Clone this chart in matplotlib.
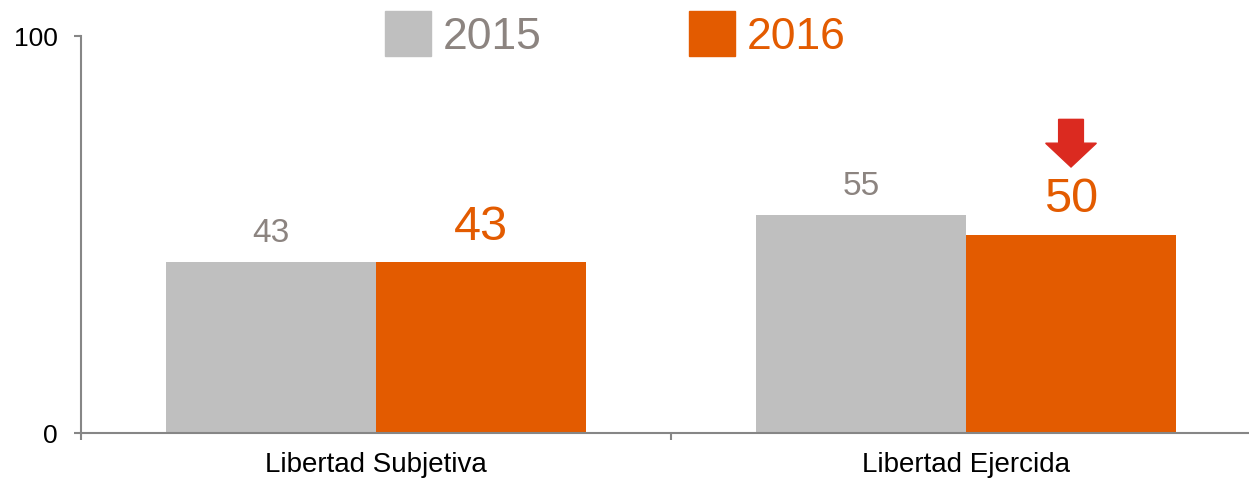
import matplotlib
matplotlib.use("Agg")
import matplotlib.pyplot as plt
import numpy as np
from matplotlib.patches import Patch, Polygon

plt.rcParams['font.family'] = ['Liberation Sans', 'DejaVu Sans']

### Data
categories = ['Libertad Subjetiva', 'Libertad Ejercida']
years = ['2015', '2016']
vals_2015 = [43, 55]
vals_2016 = [43, 50]
drop_flag = [False, True]   # red arrow above the 2016 value

### Style
c15 = '#bfbfbf'
c16 = '#e35b00'
c15_txt = '#8c8480'
axis_col = '#868686'
arrow_col = '#db2a20'

fig = plt.figure(figsize=(12.49, 4.81), dpi=100)
ax = fig.add_axes([81/1249, 47/481, 1180/1249, 397/481])

x = np.arange(len(categories))
w = 0.356
b15 = ax.bar(x - w/2, vals_2015, w, color=c15, zorder=2)
b16 = ax.bar(x + w/2, vals_2016, w, color=c16, zorder=2)

for xi, v in zip(x - w/2, vals_2015):
    ax.annotate(f'{v}', (xi, v), xytext=(0, 15), textcoords='offset points',
                ha='center', va='baseline', fontsize=24, color=c15_txt)
for xi, v, flag in zip(x + w/2, vals_2016, drop_flag):
    ax.annotate(f'{v}', (xi, v), xytext=(0, 17), textcoords='offset points',
                ha='center', va='baseline', fontsize=35, color=c16)
    if flag:
        # block arrow pointing down, above the label
        tip, head, top = v + 17, v + 23, v + 29
        sw, hw = 0.021, 0.043
        pts = [(xi - sw, top), (xi + sw, top), (xi + sw, head), (xi + hw, head),
               (xi, tip), (xi - hw, head), (xi - sw, head)]
        ax.add_patch(Polygon(pts, closed=True, color=arrow_col, zorder=3, clip_on=False))

ax.set_xlim(-0.5, 1.5)
ax.set_ylim(0, 100)
ax.set_yticks([0, 100])
ax.set_xticks([-0.5, 0.5, 1.5])
ax.set_xticklabels([])
ax.set_xticks(x, minor=True)
ax.set_xticklabels(categories, minor=True)
ax.tick_params(axis='x', which='minor', length=0, pad=13, labelsize=20)
ax.tick_params(axis='x', which='major', length=5, width=1.5, color=axis_col)
ax.tick_params(axis='y', length=5, width=1.5, color=axis_col, pad=12, labelsize=19)

for s in ['top', 'right']:
    ax.spines[s].set_visible(False)
for s in ['left', 'bottom']:
    ax.spines[s].set_color(axis_col)
    ax.spines[s].set_linewidth(1.5)

handles = [Patch(color=c15), Patch(color=c16)]
leg = fig.legend(handles, years, loc='center left', bbox_to_anchor=(385/1249, 1 - 35/481),
                 ncol=2, frameon=False, fontsize=32, handlelength=1.04, handleheight=1.2,
                 handletextpad=0.27, columnspacing=3.3, borderpad=0, borderaxespad=0)
for t, c in zip(leg.get_texts(), [c15_txt, c16]):
    t.set_color(c)

fig.savefig('out.png', dpi=100)
